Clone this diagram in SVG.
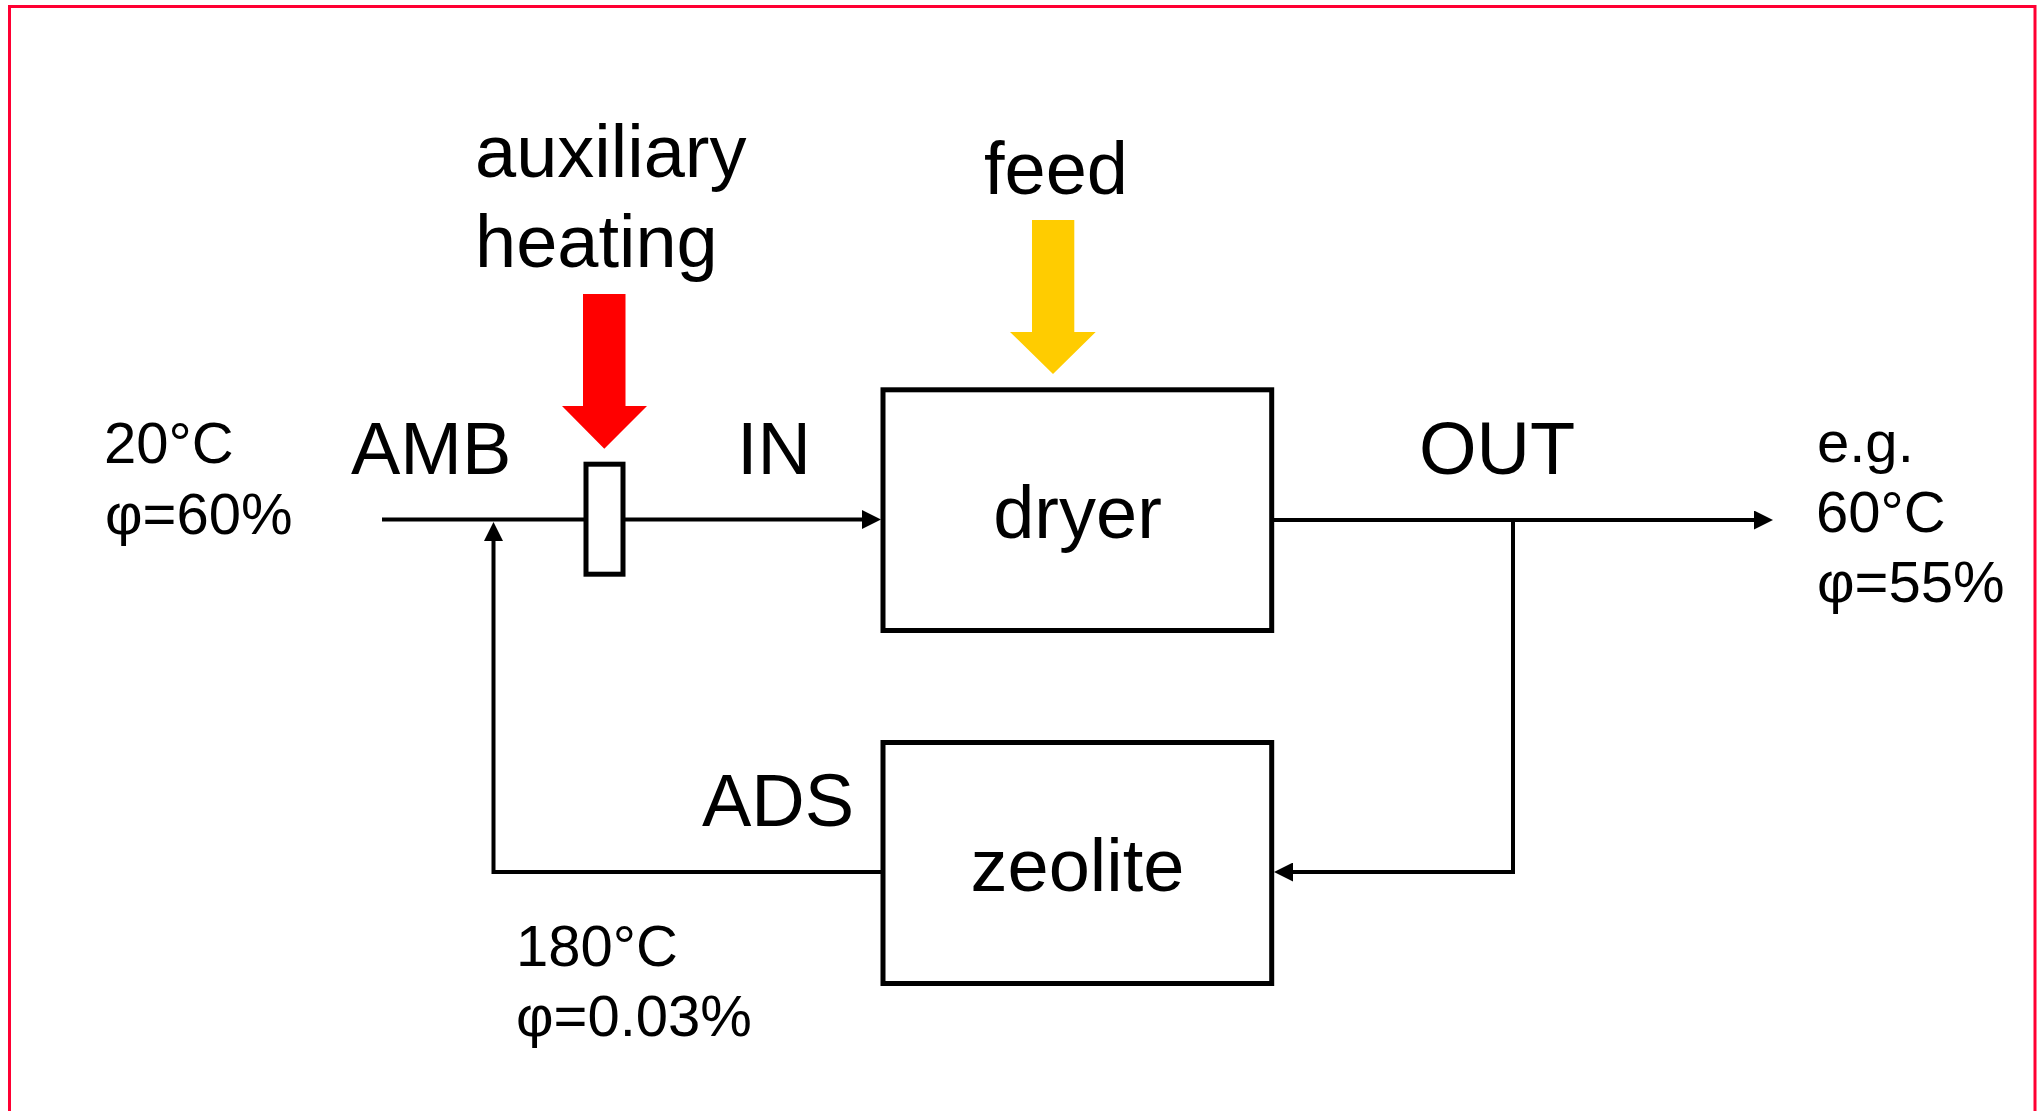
<svg xmlns="http://www.w3.org/2000/svg" width="2042" height="1111" viewBox="0 0 2042 1111">
  <style>
    .big { font-family: "Liberation Sans", Arial, sans-serif; font-size: 74px; fill: #000; }
    .small { font-family: "Liberation Sans", Arial, sans-serif; font-size: 58px; fill: #000; }
    .box { fill: #fff; stroke: #000; stroke-width: 5; }
    .conn { fill: none; stroke: #000; stroke-width: 4; }
  </style>
  <defs>
    <marker id="arrow" markerUnits="userSpaceOnUse" markerWidth="19" markerHeight="19" refX="1" refY="9.5" orient="auto" viewBox="0 0 19 19">
      <path d="M0,0 L19,9.5 L0,19 Z" fill="#000"/>
    </marker>
  </defs>
  <rect x="0" y="0" width="2042" height="1111" fill="#fff"/>
  <rect id="frame" x="9.5" y="6.5" width="2025.5" height="1130" fill="none" stroke="#FF0033" stroke-width="3"/>

  <g id="connectors">
    <path class="conn" d="M382,519.5 L863,519.5" marker-end="url(#arrow)"/>
    <path class="conn" d="M1274,520 L1755,520" marker-end="url(#arrow)"/>
    <path class="conn" d="M1513,520 L1513,872 L1292,872" marker-end="url(#arrow)"/>
    <path class="conn" d="M883,872 L493.5,872 L493.5,540" marker-end="url(#arrow)"/>
  </g>

  <g id="heater">
    <rect class="box" x="586" y="464.2" width="37" height="110"/>
  </g>

  <g id="aux-heating-arrow">
    <polygon points="583,294 625.5,294 625.5,406 647,406 604.3,448.7 562,406 583,406" fill="#FF0000"/>
    <text class="big" x="475" y="177">auxiliary</text>
    <text class="big" x="475" y="267">heating</text>
  </g>

  <g id="feed-arrow">
    <polygon points="1032,220 1074.3,220 1074.3,332 1095.7,332 1053,374 1010,332 1032,332" fill="#FFCC00"/>
    <text class="big" x="1056" y="194" text-anchor="middle">feed</text>
  </g>

  <g id="dryer">
    <rect class="box" x="883" y="389.8" width="388.7" height="240.7"/>
    <text class="big" x="1077.5" y="538" text-anchor="middle">dryer</text>
  </g>

  <g id="zeolite">
    <rect class="box" x="883" y="742.5" width="388.7" height="241"/>
    <text class="big" x="1077.5" y="891" text-anchor="middle">zeolite</text>
  </g>

  <g id="labels">
    <text class="small" x="104" y="463">20°C</text>
    <text class="small" x="105" y="534">φ=60%</text>
    <text class="big" x="351" y="474">AMB</text>
    <text class="big" x="737" y="474">IN</text>
    <text class="big" x="1419" y="474">OUT</text>
    <text class="big" x="702" y="826">ADS</text>
    <text class="small" x="516" y="966">180°C</text>
    <text class="small" x="516" y="1036">φ=0.03%</text>
    <text class="small" x="1817" y="462">e.g.</text>
    <text class="small" x="1816" y="532">60°C</text>
    <text class="small" x="1817" y="602">φ=55%</text>
  </g>
</svg>
